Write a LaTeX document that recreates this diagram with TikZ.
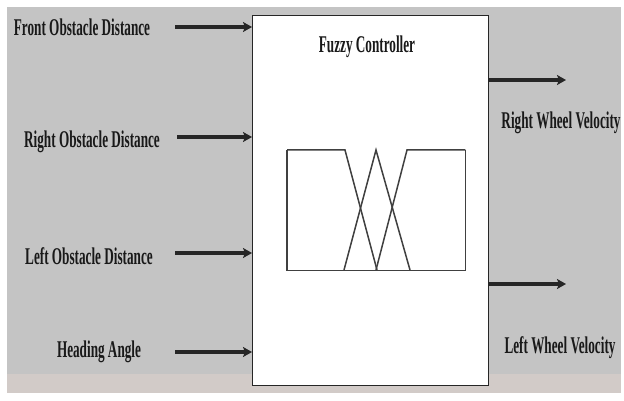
\documentclass[tikz,border=0pt]{standalone}
\usepackage{fontspec}
\setmainfont{Liberation Serif}
\usetikzlibrary{arrows.meta}
\definecolor{bggray}{HTML}{C4C4C4}
\definecolor{bgbeige}{HTML}{D2CBC8}
\tikzset{
  lbl/.style={font=\fontsize{24}{24}\selectfont\bfseries, inner sep=0pt, xscale=0.55, text=black!90},
  bigarrow/.style={line width=3.8pt, -{Stealth[length=9pt,width=10pt,inset=2pt]}, black!85},
  mf/.style={line width=1.5pt, black!75, line join=miter}
}
\begin{document}
\begin{tikzpicture}[x=1pt,y=-1pt]
\useasboundingbox (0,0) rectangle (624,401);
\fill[white] (0,0) rectangle (624,401);
\fill[bggray] (7,7) rectangle (621,374);
\fill[bgbeige] (7,374) rectangle (621,393);
% controller box
\node[draw=black!85, line width=1.4pt, fill=white, minimum width=236pt, minimum height=370pt, inner sep=0pt, anchor=north west] (fc) at (252,15) {};
\node[lbl] (title) at (367,47) {Fuzzy Controller};
% membership functions
\node[minimum width=178pt, minimum height=120pt, inner sep=0pt, anchor=north west] (mfbox) at (287,150) {};
\draw[mf] (mfbox.north west) -- (mfbox.south west) -- (mfbox.south east) -- (mfbox.north east);
\coordinate (a1) at (345,150); \coordinate (a2) at (377,270);
\coordinate (b1) at (344,270); \coordinate (b2) at (376,150); \coordinate (b3) at (410,270);
\coordinate (c1) at (376,270); \coordinate (c2) at (407,150);
\draw[mf] (mfbox.north west) -- (a1) -- (a2);
\draw[mf] (b1) -- (b2) -- (b3);
\draw[mf] (c1) -- (c2) -- (mfbox.north east);
% inputs
\node[lbl] (in1) at (82,27) {Front Obstacle Distance};
\node[lbl] (in2) at (92,142) {Right Obstacle Distance};
\node[lbl] (in3) at (89,256) {Left Obstacle Distance};
\node[lbl] (in4) at (99,352) {Heading Angle};
\coordinate (s1) at (175,27); \coordinate (e1) at (fc.west |- s1);
\coordinate (s2) at (177,137); \coordinate (e2) at (fc.west |- s2);
\coordinate (s3) at (175,253); \coordinate (e3) at (fc.west |- s3);
\coordinate (s4) at (175,352); \coordinate (e4) at (fc.west |- s4);
\draw[bigarrow] (s1) -- (e1);
\draw[bigarrow] (s2) -- (e2);
\draw[bigarrow] (s3) -- (e3);
\draw[bigarrow] (s4) -- (e4);
% outputs
\coordinate (o1) at (fc.east |- 0,80); \coordinate (t1) at (566,80);
\coordinate (o2) at (fc.east |- 0,284); \coordinate (t2) at (566,284);
\draw[bigarrow] (o1) -- (t1);
\draw[bigarrow] (o2) -- (t2);
\node[lbl] (out1) at (561,123) {Right Wheel Velocity};
\node[lbl] (out2) at (560,348) {Left Wheel Velocity};
\end{tikzpicture}
\end{document}
